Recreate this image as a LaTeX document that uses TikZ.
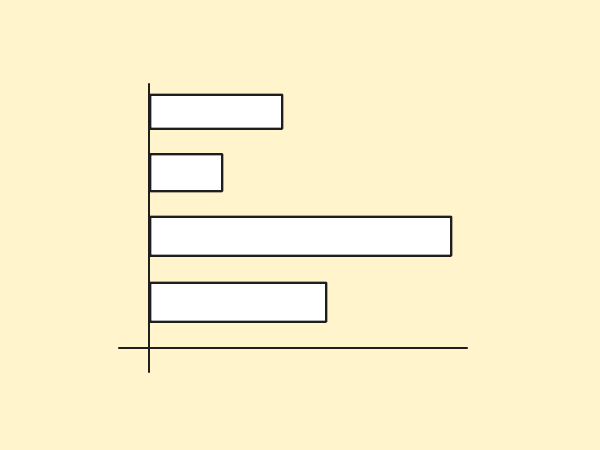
\documentclass[tikz,border=0pt]{standalone}
\definecolor{bg}{HTML}{FFF4CC}
\definecolor{ink}{HTML}{1E1E1E}
\tikzset{
  bar/.style={draw=ink, fill=white, line width=2.3pt, inner sep=0pt, anchor=north west, rounded corners=0.6pt},
  axis/.style={draw=ink, line width=2.3pt, line cap=round}
}
\begin{document}
\begin{tikzpicture}[x=1pt,y=-1pt]
\fill[bg] (0,0) rectangle (600,450);
\useasboundingbox (0,0) rectangle (600,450);
\node[bar, minimum width=132pt, minimum height=34pt] (b1) at (149,93.5) {};
\node[bar, minimum width=72pt, minimum height=37pt] (b2) at (149,153) {};
\node[bar, minimum width=301pt, minimum height=39pt] (b3) at (149,215.5) {};
\node[bar, minimum width=176pt, minimum height=39pt] (b4) at (149,281.5) {};
\coordinate (yt) at (149,84);
\coordinate (yb) at (149,372);
\coordinate (xl) at (119,348);
\coordinate (xr) at (467,348);
\draw[axis] (yt) -- (yb);
\draw[axis] (xl) -- (xr);
\end{tikzpicture}
\end{document}
